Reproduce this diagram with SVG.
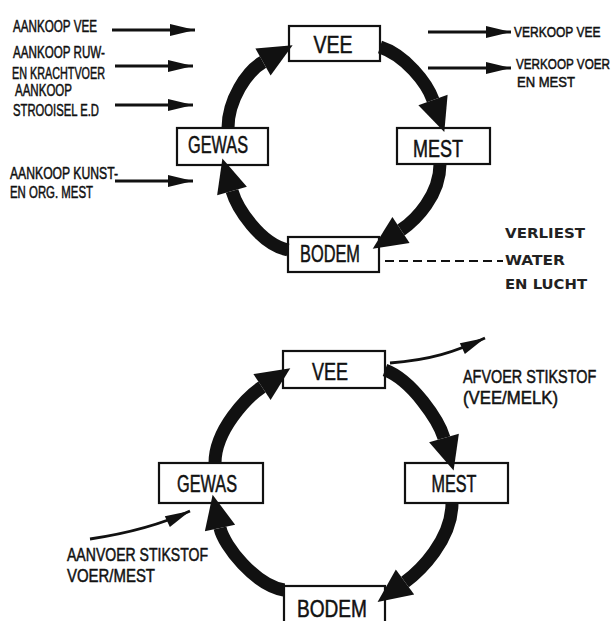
<svg xmlns="http://www.w3.org/2000/svg" width="612" height="621" viewBox="0 0 612 621">
<style>
.box{fill:#fff;stroke:#111;stroke-width:2.2}
.lbl{font-family:"Liberation Sans",Arial,sans-serif;fill:#111;stroke:#111;stroke-width:0.5}
.bx{font-size:23px;text-anchor:middle}
.sd{font-size:16px}
.big{fill:none;stroke:#111;stroke-width:13}
.thin{fill:none;stroke:#111;stroke-width:2.8}
.clean{font-family:"DejaVu Sans",Verdana,sans-serif;font-weight:bold;font-size:14px;fill:#222}
</style>
<defs>
<marker id="bigHead" markerUnits="userSpaceOnUse" viewBox="0 -17 36 34" markerWidth="36" markerHeight="34" refX="0" refY="0" orient="auto" overflow="visible">
<path d="M0,-15.5 L34,0 L0,15.5 z" fill="#111"/>
</marker>
<marker id="thinHead" markerUnits="userSpaceOnUse" viewBox="0 -8 26 16" markerWidth="26" markerHeight="16" refX="25" refY="0" orient="auto" overflow="visible">
<path d="M0,-6 L25,0 L0,6 z" fill="#111"/>
</marker>
</defs>
<rect width="612" height="621" fill="#fff"/>

<!-- Top diagram nodes -->
<g id="top-vee"><rect class="box" x="289" y="26" width="91" height="35"/><text class="lbl bx" x="333" y="53" textLength="39" lengthAdjust="spacingAndGlyphs">VEE</text></g>
<g id="top-mest"><rect class="box" x="397" y="128" width="93" height="36"/><text class="lbl bx" x="438" y="157" textLength="50" lengthAdjust="spacingAndGlyphs">MEST</text></g>
<g id="top-gewas"><rect class="box" x="177" y="128" width="91" height="37"/><text class="lbl bx" x="218" y="153" textLength="60" lengthAdjust="spacingAndGlyphs">GEWAS</text></g>
<g id="top-bodem"><rect class="box" x="288" y="237" width="91" height="35"/><text class="lbl bx" x="330" y="262" textLength="60" lengthAdjust="spacingAndGlyphs">BODEM</text></g>

<!-- Top side labels -->
<g id="top-inputs">
<text class="lbl sd" x="13" y="32" textLength="84" lengthAdjust="spacingAndGlyphs">AANKOOP VEE</text>
<text class="lbl sd" x="13" y="58" textLength="92" lengthAdjust="spacingAndGlyphs">AANKOOP RUW-</text>
<text class="lbl sd" x="12" y="79" textLength="93" lengthAdjust="spacingAndGlyphs">EN KRACHTVOER</text>
<text class="lbl sd" x="15" y="96" textLength="57" lengthAdjust="spacingAndGlyphs">AANKOOP</text>
<text class="lbl sd" x="13" y="116" textLength="86" lengthAdjust="spacingAndGlyphs">STROOISEL E.D</text>
<text class="lbl sd" x="10" y="179" textLength="108" lengthAdjust="spacingAndGlyphs">AANKOOP KUNST-</text>
<text class="lbl sd" x="10" y="198" textLength="83" lengthAdjust="spacingAndGlyphs">EN ORG. MEST</text>
</g>
<g id="top-outputs">
<text class="lbl" font-size="15" transform="translate(514,37) scale(0.8,1)">VERKOOP VEE</text>
<text class="lbl" font-size="15" transform="translate(516,69) scale(0.78,1)">VERKOOP VOER</text>
<text class="lbl" font-size="15" x="517" y="87" textLength="58" lengthAdjust="spacingAndGlyphs">EN MEST</text>
</g>
<g id="top-loss">
<text class="clean" x="505" y="238" textLength="80" lengthAdjust="spacingAndGlyphs">VERLIEST</text>
<text class="clean" x="505" y="265" textLength="60" lengthAdjust="spacingAndGlyphs">WATER</text>
<text class="clean" x="505" y="289" textLength="82" lengthAdjust="spacingAndGlyphs">EN LUCHT</text>
</g>

<!-- Bottom diagram nodes -->
<g id="bot-vee"><rect class="box" x="283" y="351" width="102" height="37"/><text class="lbl bx" x="330" y="380" textLength="36" lengthAdjust="spacingAndGlyphs">VEE</text></g>
<g id="bot-mest"><rect class="box" x="405" y="463" width="103" height="40"/><text class="lbl bx" x="454" y="492" textLength="45" lengthAdjust="spacingAndGlyphs">MEST</text></g>
<g id="bot-gewas"><rect class="box" x="159" y="463" width="104" height="40"/><text class="lbl bx" x="207" y="492" textLength="60" lengthAdjust="spacingAndGlyphs">GEWAS</text></g>
<g id="bot-bodem"><rect class="box" x="284" y="586" width="101" height="45"/><text class="lbl bx" x="332" y="617" textLength="70" lengthAdjust="spacingAndGlyphs">BODEM</text></g>

<g id="bot-labels">
<text class="lbl" font-size="18" transform="translate(463,383) scale(0.8,1)">AFVOER STIKSTOF</text>
<text class="lbl" font-size="18" x="463" y="404" textLength="95" lengthAdjust="spacingAndGlyphs">(VEE/MELK)</text>
<text class="lbl" font-size="18" x="67" y="561" textLength="141" lengthAdjust="spacingAndGlyphs">AANVOER STIKSTOF</text>
<text class="lbl" font-size="18" x="67" y="582" textLength="88" lengthAdjust="spacingAndGlyphs">VOER/MEST</text>
</g>

<!-- Connectors -->
<g id="connectors">
<!-- top cycle -->
<path class="big" marker-end="url(#bigHead)" d="M228,128 C228,100 247,71 263,62"/>
<path class="big" marker-end="url(#bigHead)" d="M380,47 C405,55 427,83 433,100"/>
<path class="big" marker-end="url(#bigHead)" d="M440,164 C440,195 416,220 401,230"/>
<path class="big" marker-end="url(#bigHead)" d="M288,250 C260,244 237,208 232,191"/>
<!-- top inputs / outputs -->
<path class="thin" marker-end="url(#thinHead)" d="M112,30 L195,30"/>
<path class="thin" marker-end="url(#thinHead)" d="M115,66 L193,66"/>
<path class="thin" marker-end="url(#thinHead)" d="M115,105 L193,105"/>
<path class="thin" marker-end="url(#thinHead)" d="M115,181 L193,181"/>
<path class="thin" marker-end="url(#thinHead)" d="M428,32 L511,32"/>
<path class="thin" marker-end="url(#thinHead)" d="M428,68 L511,68"/>
<path d="M385,261 L503,261" stroke="#111" stroke-width="2" stroke-dasharray="9,5" fill="none"/>
<!-- bottom cycle -->
<path class="big" marker-end="url(#bigHead)" d="M215,463 C215,430 247,397 262,387"/>
<path class="big" marker-end="url(#bigHead)" d="M385,370 C412,380 439,421 444,438"/>
<path class="big" marker-end="url(#bigHead)" d="M452,503 C452,540 420,571 405,582"/>
<path class="big" marker-end="url(#bigHead)" d="M284,590 C255,585 224,546 220,528"/>
<!-- bottom in/out -->
<path class="thin" marker-end="url(#thinHead)" d="M390,363 C430,360 455,352 485,338"/>
<path class="thin" marker-end="url(#thinHead)" d="M90,539 C130,533 160,525 190,511"/>
</g>
</svg>
